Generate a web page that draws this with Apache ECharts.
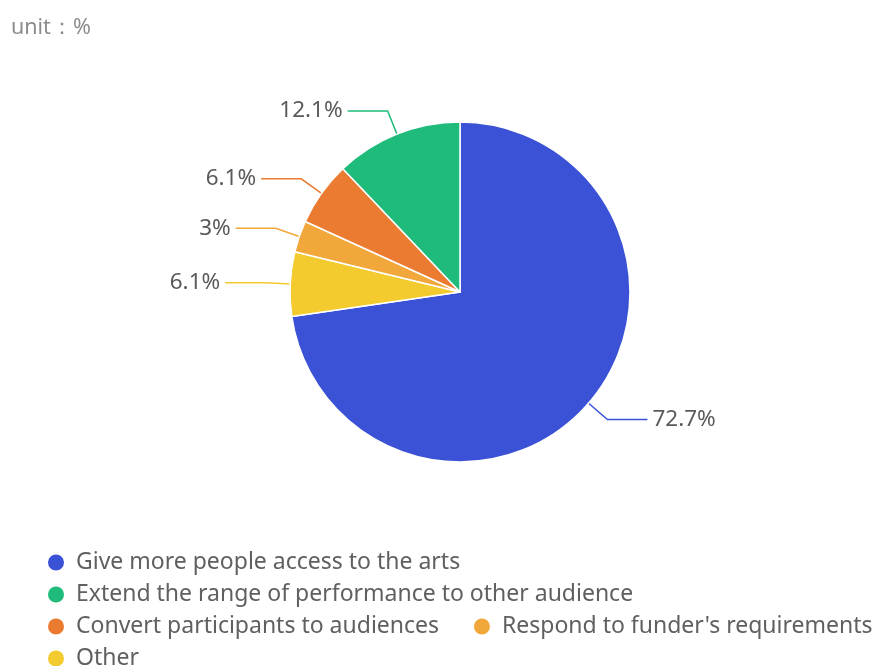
<!DOCTYPE html>
<html>
<head>
<meta charset="utf-8">
<script src="https://cdn.jsdelivr.net/npm/echarts@6/dist/echarts.min.js"></script>
<style>
  html, body { margin: 0; padding: 0; background: #fff; }
  #chart { width: 873px; height: 666px; }
</style>
</head>
<body>
<div id="chart"></div>
<script>
// Categories in legend order
const legendOrder = [
  'Give more people access to the arts',
  'Extend the range of performance to other audience',
  'Convert participants to audiences',
  "Respond to funder's requirements",
  'Other'
];
// Slices in drawing order (clockwise from 12 o'clock)
const sliceNames = [
  'Give more people access to the arts',
  'Other',
  "Respond to funder's requirements",
  'Convert participants to audiences',
  'Extend the range of performance to other audience'
];
const sliceValues = [72.7, 6.1, 3, 6.1, 12.1];
const sliceColors = ['#3b52d7', '#f3cb2f', '#f1a73a', '#eb7b30', '#1ebb7a'];

const chart = echarts.init(document.getElementById('chart'), null, { renderer: 'canvas' });
chart.setOption({
  animation: false,
  backgroundColor: '#ffffff',
  title: {
    text: 'unit：%',
    left: 6,
    top: 12,
    textStyle: { fontFamily: 'Noto Sans', fontSize: 21.5, fontWeight: 'normal', color: '#8c8c8c' }
  },
  legend: {
    data: legendOrder,
    orient: 'horizontal',
    left: 46,
    top: 551,
    width: 880,
    padding: 0,
    itemGap: 9,
    itemWidth: 24,
    itemHeight: 18,
    icon: 'circle',
    // trailing spaces widen the gap between items sharing a row
    formatter: name => name + '    ',
    textStyle: { fontFamily: 'Noto Sans', fontSize: 23, color: '#606060', padding: [0, 0, 0, 3] }
  },
  series: [{
    type: 'pie',
    center: [460, 292],
    radius: [0, 170],
    startAngle: 90,
    clockwise: true,
    data: sliceNames.map((n, i) => ({ name: n, value: sliceValues[i], itemStyle: { color: sliceColors[i] } })),
    itemStyle: { borderColor: '#ffffff', borderWidth: 1.5 },
    label: {
      formatter: '{c}%',
      fontFamily: 'Noto Sans',
      fontSize: 22.5,
      color: '#5a5a5a'
    },
    labelLine: { length: 25, length2: 40, lineStyle: { width: 1.5 } }
  }]
});
</script>
</body>
</html>
